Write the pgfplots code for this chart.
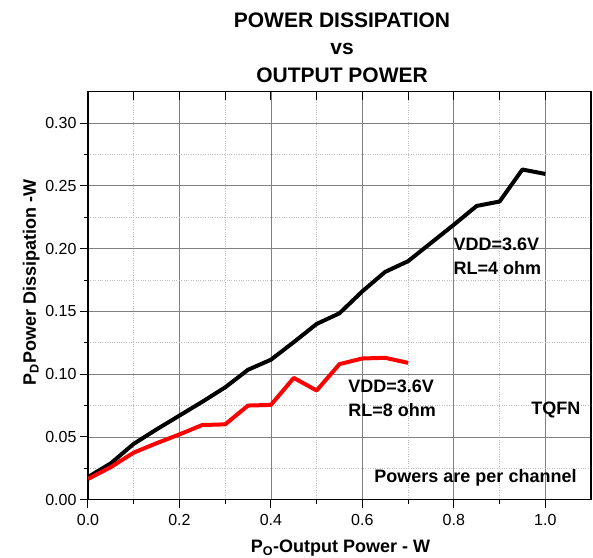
\documentclass[border=0pt]{standalone}
\usepackage{fontspec}
\setmainfont{Liberation Sans}
\usepackage{pgfplots}
\usepackage{pgfplotstable}
\pgfplotsset{compat=1.18}

\pgfplotstableread{
x y
0.00 0.0180
0.05 0.0290
0.10 0.0445
0.15 0.0560
0.20 0.0670
0.25 0.0780
0.30 0.0895
0.35 0.1035
0.40 0.1115
0.45 0.1255
0.50 0.1400
0.55 0.1485
0.60 0.1660
0.65 0.1815
0.70 0.1900
0.75 0.2045
0.80 0.2190
0.85 0.2340
0.90 0.2375
0.95 0.2630
1.00 0.2595
}\fourohm

\pgfplotstableread{
x y
0.00 0.0165
0.05 0.0260
0.10 0.0375
0.15 0.0450
0.20 0.0520
0.25 0.0595
0.30 0.0600
0.35 0.0750
0.40 0.0755
0.45 0.0970
0.50 0.0870
0.55 0.1080
0.60 0.1125
0.65 0.1130
0.70 0.1090
}\eightohm

\begin{document}
\begin{tikzpicture}
\begin{axis}[
  scale only axis,
  width=503bp, height=408bp,
  xmin=0, xmax=1.1, ymin=0, ymax=0.325,
  xtick={0,0.2,0.4,0.6,0.8,1.0},
  minor xtick={0.1,0.3,0.5,0.7,0.9},
  ytick={0,0.05,0.10,0.15,0.20,0.25,0.30},
  minor ytick={0.025,0.075,0.125,0.175,0.225,0.275},
  grid=both,
  major grid style={draw=black!50, line width=0.7bp},
  minor grid style={draw=black!25, dotted, line width=0.7bp},
  xtick pos=left, ytick pos=left,
  tick align=outside,
  major tick length=8bp, minor tick length=4bp,
  every tick/.style={black, line width=1bp},
  axis line style={line width=1.5bp},
  /pgf/number format/assume math mode=true,
  xticklabel style={font=\fontsize{16bp}{19bp}\selectfont, yshift=-3bp, /pgf/number format/fixed, /pgf/number format/precision=1, /pgf/number format/fixed zerofill},
  yticklabel style={font=\fontsize{16bp}{19bp}\selectfont, /pgf/number format/fixed, /pgf/number format/precision=2, /pgf/number format/fixed zerofill},
  xlabel={P\textsubscript{O}-Output Power - W},
  ylabel={P\textsubscript{D}Power Dissipation -W},
  every axis x label/.style={at={(axis description cs:0.502,-0.13)}, anchor=base, font=\fontsize{18bp}{21bp}\selectfont\bfseries},
  every axis y label/.style={at={(axis description cs:-0.1034,0.532)}, anchor=base, rotate=90, font=\fontsize{18bp}{21bp}\selectfont\bfseries},
  title={POWER DISSIPATION\\vs\\OUTPUT POWER},
  title style={at={(axis description cs:0.505,1)}, anchor=south, inner sep=0pt, yshift=3bp, align=center, font=\fontsize{21bp}{27.5bp}\selectfont\bfseries},
]
\addplot[black, line width=4bp, line join=round] table[x=x, y=y] {\fourohm};
\addplot[red, line width=4bp, line join=round] table[x=x, y=y] {\eightohm};
\begin{scope}[every node/.style={anchor=base west, inner sep=0pt, font=\fontsize{18bp}{21bp}\selectfont\bfseries}]
\node at (axis cs:0.799,0.1985) {VDD=3.6V};
\node at (axis cs:0.799,0.1790) {RL=4 ohm};
\node at (axis cs:0.569,0.0854) {VDD=3.6V};
\node at (axis cs:0.569,0.0661) {RL=8 ohm};
\node at (axis cs:0.969,0.0677) {TQFN};
\node at (axis cs:0.626,0.0138) {Powers are per channel};
\end{scope}
\end{axis}
\begin{axis}[
  scale only axis,
  width=503bp, height=408bp,
  xmin=0, xmax=1.1, ymin=0, ymax=0.325,
  axis line style={draw=none},
  xtick={0.1,0.2,...,1.0},
  xticklabels={},
  ytick=\empty,
  xtick pos=right,
  tick align=inside,
  major tick length=8bp,
  every tick/.style={black, line width=1bp},
]
\end{axis}
\pgfresetboundingbox
\path[use as bounding box] (-88bp,-58bp) rectangle (505bp,499.7bp);
\end{tikzpicture}
\end{document}
